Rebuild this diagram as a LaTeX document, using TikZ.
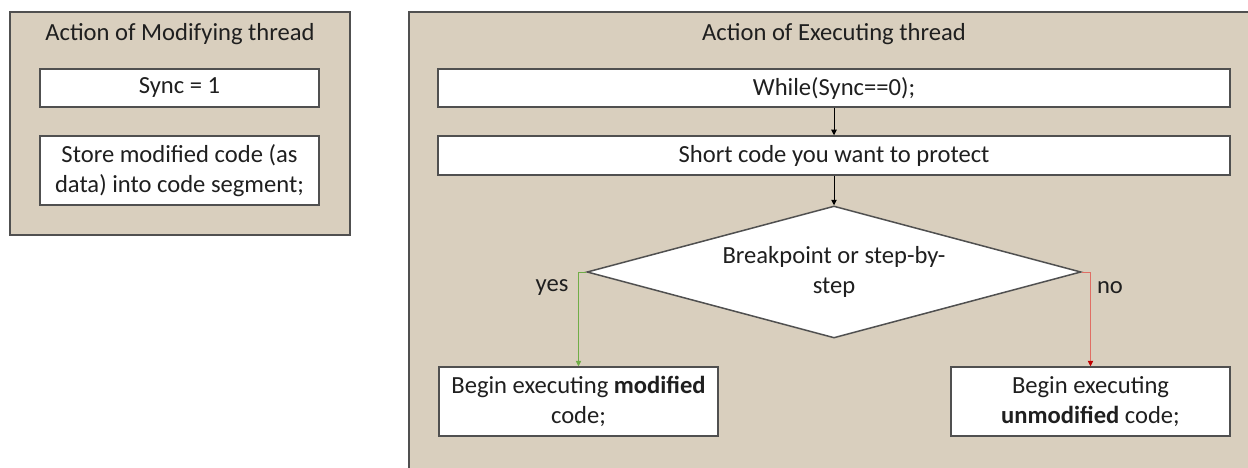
\documentclass[tikz,border=0pt]{standalone}
\usepackage{fontspec}
\setmainfont{Carlito}
\usetikzlibrary{arrows.meta,shapes.geometric}
\definecolor{tan}{RGB}{217,207,190}
\definecolor{edge}{RGB}{80,80,80}
\definecolor{yesgreen}{RGB}{112,173,71}
\definecolor{nored}{RGB}{192,0,0}
\definecolor{noline}{RGB}{224,110,100}
\tikzset{
  panel/.style={draw=edge, line width=1.5pt, fill=tan, rectangle, inner sep=0pt},
  whitebox/.style={draw=edge, line width=1.5pt, fill=white, rectangle, inner sep=0pt, align=center},
  decision/.style={draw=edge, line width=1.5pt, fill=white, diamond, inner sep=0pt, aspect=3.74, align=center, minimum width=494pt, minimum height=132pt},
  lbl/.style={inner sep=0pt},
  flow/.style={draw=black, line width=0.8pt, -{Triangle[width=5.5pt,length=5.5pt]}},
  yesflow/.style={draw=yesgreen, line width=0.8pt, -{Triangle[width=5.5pt,length=5.5pt]}},
  noflow/.style={draw=noline, line width=0.8pt, -{Triangle[width=5.5pt,length=5.5pt,color=nored]}},
}
\begin{document}
\begin{tikzpicture}[x=1pt, y=-1pt, font=\fontsize{24.6}{30.5}\selectfont, text=black!88]
\clip (0,0) rectangle (1248,468);
\fill[white] (0,0) rectangle (1248,468);
% left panel
\node[panel, minimum width=340pt, minimum height=223pt] (lpanel) at (180,123.5) {};
\node[lbl] (ltitle) at (180,34) {Action of Modifying thread};
\node[whitebox, minimum width=279pt, minimum height=38pt] (sync) at (179.5,88) {Sync = 1};
\node[whitebox, minimum width=279pt, minimum height=69pt] (store) at (179.5,170.5) {Store modified code (as\\data) into code segment;};
% right panel
\node[panel, minimum width=850pt, minimum height=468pt] (rpanel) at (834,246) {};
\node[lbl] (rtitle) at (834,34) {Action of Executing thread};
\node[whitebox, minimum width=792pt, minimum height=38pt] (while) at (834,88) {While(Sync==0);};
\node[whitebox, minimum width=792pt, minimum height=39pt] (short) at (834,155.5) {Short code you want to protect};
\node[decision] (dec) at (834,272) {Breakpoint or step-by-\\step};
\node[whitebox, minimum width=279pt, minimum height=69pt] (mod) at (578.5,401.5) {Begin executing \textbf{modified}\\code;};
\node[whitebox, minimum width=279pt, minimum height=69pt] (unmod) at (1090.5,401.5) {Begin executing\\\textbf{unmodified} code;};
\node[lbl] (yes) at (552,288) {yes};
\node[lbl] (no) at (1110,288) {no};
% connectors
\draw[flow] (while.south) -- (short.north);
\draw[flow] (short.south) -- (dec.north);
\draw[yesflow] (dec.west) -| (mod.north);
\draw[noflow] (dec.east) -| (unmod.north);
\end{tikzpicture}
\end{document}
